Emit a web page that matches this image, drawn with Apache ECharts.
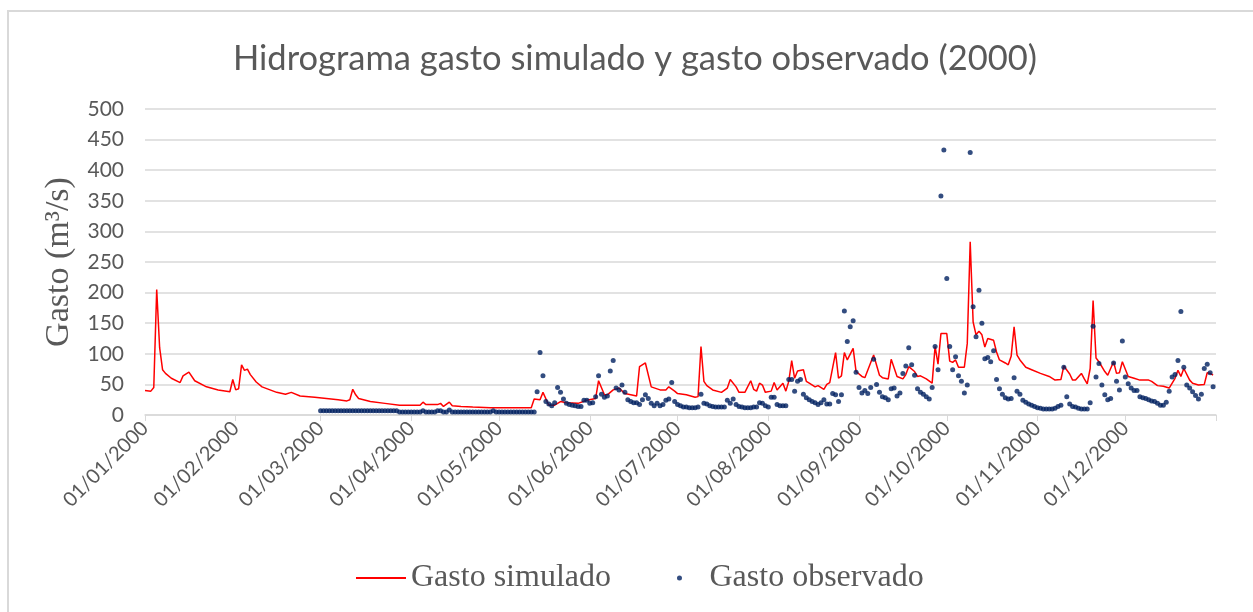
<!DOCTYPE html>
<html>
<head>
<meta charset="utf-8">
<title>Hidrograma 2000</title>
<script src="https://cdn.jsdelivr.net/npm/echarts@6/dist/echarts.min.js"></script>
<style>
  html, body { margin: 0; padding: 0; background: #fff; }
  #marco { position: absolute; left: 7px; top: 10px; width: 1300px; height: 700px; border: 2px solid #d9d9d9; }
  #hidrograma { position: absolute; left: 0; top: 0; width: 1253px; height: 612px; }
</style>
</head>
<body>
<div id="marco"></div>
<div id="hidrograma"></div>
<script>
// gasto simulado: [día del año (0 = 01/01/2000), gasto m3/s]
var simulado = [
  [0,40],[2,39],[3,45],[4,205],[5,110],[6,74],[7,68],[9,60],[12,53],[13,64],[15,70],[17,56],[21,46],[25,41],
  [29,38],[30,58],[31,41],[32,43],[33,82],[34,73],[35,75],[36,66],[38,54],[40,46],[45,37],[48,34],[50,37],
  [53,31],[58,29],[62,27],[66,25],[69,23],[70,25],[71,42],[72,33],[73,27],[77,22],[82,19],[87,16],[94,16],
  [95,21],[96,17],[100,17],[101,19],[102,14],[104,21],[105,15],[108,14],[112,13],[118,12],[124,12],[132,12],
  [133,26],[135,25],[136,37],[138,16],[140,16],[142,22],[144,20],[148,19],[151,24],[154,27],[155,56],[157,33],
  [158,33],[160,41],[162,44],[164,35],[166,33],[168,31],[169,79],[171,85],[173,46],[176,41],[178,41],[179,46],
  [181,39],[182,35],[185,33],[188,29],[189,30],[190,112],[191,55],[192,48],[194,41],[197,37],[199,44],[200,58],
  [202,46],[203,37],[205,37],[207,56],[208,42],[209,39],[210,52],[211,49],[212,37],[214,39],[215,53],[216,41],
  [218,52],[219,39],[220,55],[221,89],[222,60],[223,72],[225,74],[226,55],[227,52],[229,46],[230,48],[232,42],
  [233,50],[234,53],[236,102],[237,60],[238,64],[239,102],[240,90],[242,109],[243,71],[245,63],[246,61],[249,98],
  [251,65],[252,61],[254,59],[255,91],[257,63],[259,59],[260,66],[261,79],[263,71],[264,63],[265,64],[267,59],
  [269,52],[270,112],[271,83],[272,133],[274,133],[275,88],[276,86],[277,90],[278,78],[280,78],[281,117],[282,283],
  [283,152],[284,131],[285,137],[286,131],[287,111],[288,125],[290,122],[291,103],[292,90],[294,85],[295,82],[296,96],
  [297,144],[298,98],[299,90],[301,78],[303,74],[306,68],[309,63],[311,57],[313,58],[314,80],[316,67],[317,57],
  [318,57],[320,68],[321,59],[322,51],[323,76],[324,187],[325,93],[326,87],[328,71],[329,65],[331,87],[332,68],
  [333,69],[334,87],[336,63],[338,60],[340,57],[343,57],[344,55],[346,48],[348,47],[350,44],[352,60],[353,73],
  [354,63],[355,76],[357,57],[358,52],[360,49],[362,50],[363,69],[364,68],[365,65]
];

// gasto observado, un valor por día desde el 01/03/2000
var obsMarzo = [7,7,7,7,7,7,7,7,7,7,7,7,7,7,7,7,7,7,7,7,7,7,7,7,7,7,7,5,5,5,5];
var obsAbril = [5,5,5,5,7,5,5,5,5,7,7,5,5,8,5,5,5,5,5,5,5,5,5,5,5,5,5,5,7,5];
var obsMayo = [5,5,5,5,5,5,5,5,5,5,5,5,5,38,102,64,22,18,15,20,45,37,26,19,17,16,15,14,14,24,24];
var obsJunio = [19,20,30,64,34,29,31,72,89,44,41,49,37,25,22,20,20,17,25,33,27,19,15,19,15,17,24,26,53,22];
var obsJulio = [17,15,13,13,12,12,12,13,34,19,18,15,14,13,13,13,13,24,19,26,17,14,13,12,12,12,13,13,20,19,15];
var obsAgosto = [13,29,29,17,15,15,15,58,58,39,55,58,34,28,25,22,20,17,20,25,18,18,35,33,22,33,170,120,144,154,70];
var obsSeptiembre = [45,36,40,35,45,91,50,37,30,28,25,43,44,31,36,68,80,110,82,65,43,37,34,30,26,45,112,74,358,433];
var obsOctubre = [223,112,74,95,64,55,36,49,429,177,128,204,150,92,94,87,105,58,43,34,28,26,27,61,39,34,24,21,18,16,14];
var obsNoviembre = [12,11,10,10,10,10,11,14,16,78,30,18,14,13,11,10,10,10,20,145,62,84,49,33,25,27,85,55,41,121];
var obsDiciembre = [62,51,44,40,40,30,28,27,25,23,22,19,16,16,21,39,62,66,89,169,78,49,44,38,32,26,34,76,83,69,46];
var inicioObs = 60; // 01/03/2000

var yTicks = { min: 0, max: 500, interval: 50 };

// categorías: un día por posición, del 01/01/2000 al 01/01/2001
function dos(n) { return (n < 10 ? '0' : '') + n; }
var fechas = [];
for (var i = 0; i <= 366; i++) {
  var d = new Date(Date.UTC(2000, 0, 1) + i * 86400000);
  fechas.push(dos(d.getUTCDate()) + '/' + dos(d.getUTCMonth() + 1) + '/' + d.getUTCFullYear());
}

var observado = [];
[obsMarzo, obsAbril, obsMayo, obsJunio, obsJulio, obsAgosto, obsSeptiembre, obsOctubre, obsNoviembre, obsDiciembre]
  .reduce(function (a, b) { return a.concat(b); }, [])
  .forEach(function (v, k) { observado.push([inicioObs + k, v]); });

var gris = '#595959';
var chart = echarts.init(document.getElementById('hidrograma'));
chart.setOption({
  backgroundColor: 'transparent',
  animation: false,
  title: {
    text: 'Hidrograma gasto simulado y gasto observado (2000)',
    left: 228,
    top: 36,
    textStyle: { fontFamily: 'Lato', fontSize: 34.5, fontWeight: 'normal', color: gris }
  },
  legend: {
    left: 350,
    top: 557,
    itemWidth: 50,
    itemHeight: 5,
    itemGap: 66,
    textStyle: { fontFamily: 'Liberation Serif', fontSize: 32, color: gris },
    data: [
      { name: 'Gasto simulado', itemStyle: { opacity: 0 } },
      { name: 'Gasto observado', icon: 'circle' }
    ]
  },
  grid: { left: 145, right: 37, top: 109, bottom: 197 },
  xAxis: {
    type: 'category',
    data: fechas,
    boundaryGap: false,
    axisLine: { lineStyle: { color: '#d9d9d9', width: 1.5 } },
    axisTick: {
      length: 6,
      lineStyle: { color: '#d9d9d9' },
      interval: function (idx, val) { return val.indexOf('01/') === 0; }
    },
    axisLabel: {
      rotate: 45,
      margin: 10,
      fontFamily: 'Lato',
      fontSize: 20,
      color: gris,
      interval: function (idx, val) { return val.indexOf('01/') === 0 && idx < 366; }
    },
    splitLine: { show: false }
  },
  yAxis: {
    type: 'value',
    min: yTicks.min,
    max: yTicks.max,
    interval: yTicks.interval,
    name: 'Gasto (m³/s)',
    nameLocation: 'middle',
    nameRotate: 90,
    nameGap: 56,
    nameTextStyle: { fontFamily: 'Liberation Serif', fontSize: 34, color: gris },
    axisLine: { show: false },
    axisTick: { show: false },
    axisLabel: { margin: 21, fontFamily: 'Lato', fontSize: 21, color: gris },
    splitLine: { lineStyle: { color: '#d9d9d9', width: 1.5 } }
  },
  series: [
    {
      name: 'Gasto simulado',
      type: 'line',
      symbol: 'none',
      data: simulado,
      lineStyle: { color: '#ff0000', width: 1.5 },
      itemStyle: { color: '#ff0000' },
      z: 2
    },
    {
      name: 'Gasto observado',
      type: 'scatter',
      symbol: 'circle',
      symbolSize: 5,
      data: observado,
      itemStyle: { color: '#002060' },
      z: 3
    }
  ]
});
</script>
</body>
</html>
